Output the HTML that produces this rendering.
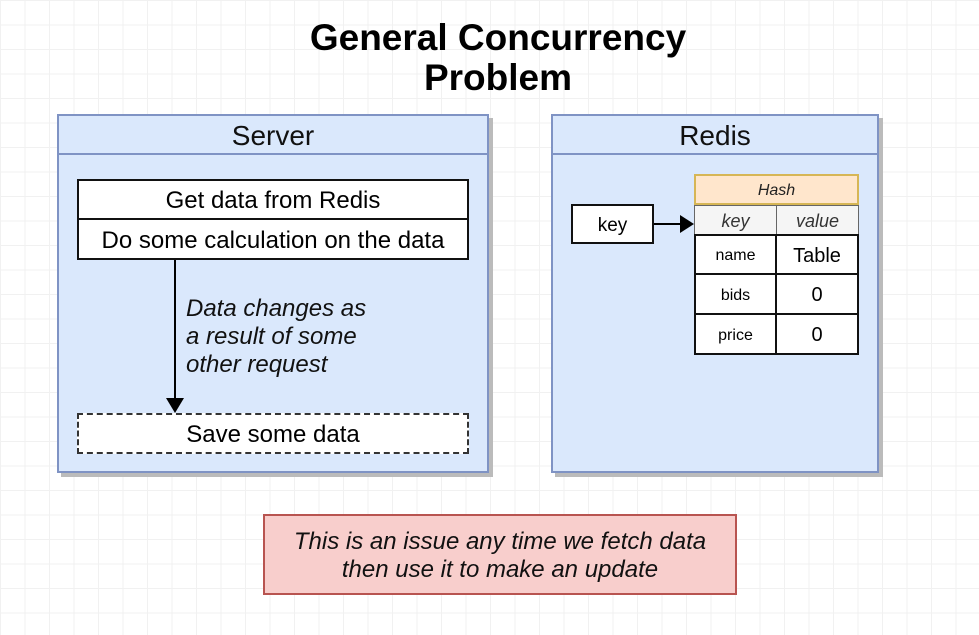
<!DOCTYPE html>
<html><head><meta charset="utf-8"><style>
body{margin:0;width:979px;height:635px;overflow:hidden;background:#fff;
background-image:linear-gradient(#f1f1f1 1px,transparent 1px),linear-gradient(90deg,#f1f1f1 1px,transparent 1px);
background-size:24.5px 24.5px;font-family:"Liberation Sans",sans-serif;position:relative}
.a{position:absolute;box-sizing:border-box}
.c{display:flex;align-items:center;justify-content:center;text-align:center;white-space:nowrap;padding-top:3px}
</style></head><body>
<div class="a c" style="left:200px;top:15px;width:596px;font-weight:bold;font-size:37px;line-height:40px;color:#000">General Concurrency<br>Problem</div>

<!-- Server -->
<div class="a" style="left:61px;top:118px;width:432px;height:359px;background:#bbb"></div>
<div class="a" style="left:57px;top:114px;width:432px;height:359px;background:#dae8fc;border:2px solid #7f93c4"></div>
<div class="a c" style="left:57px;top:116px;width:432px;height:39px;border-bottom:2px solid #7f93c4;font-size:28px;color:#111">Server</div>
<div class="a c" style="left:77px;top:179px;width:392px;height:41px;background:#fff;border:2px solid #111;font-size:24px">Get data from Redis</div>
<div class="a c" style="left:77px;top:218px;width:392px;height:42px;background:#fff;border:2px solid #111;font-size:24px">Do some calculation on the data</div>
<div class="a" style="left:186px;top:295px;font-size:24px;font-style:italic;line-height:28px;color:#111;white-space:nowrap">Data changes as<br>a result of some<br>other request</div>
<div class="a c" style="left:77px;top:413px;width:392px;height:41px;background:#fff;border:2px dashed #333;font-size:24px">Save some data</div>

<!-- Redis -->
<div class="a" style="left:555px;top:118px;width:328px;height:359px;background:#bbb"></div>
<div class="a" style="left:551px;top:114px;width:328px;height:359px;background:#dae8fc;border:2px solid #7f93c4"></div>
<div class="a c" style="left:551px;top:116px;width:328px;height:39px;border-bottom:2px solid #7f93c4;font-size:28px;color:#111">Redis</div>
<div class="a c" style="left:571px;top:204px;width:83px;height:40px;background:#fff;border:2px solid #111;font-size:19px">key</div>
<div class="a c" style="left:694px;top:174px;width:165px;height:31px;background:#ffe6cc;border:2px solid #d6b656;font-size:16px;font-style:italic;color:#222">Hash</div>
<div class="a c" style="left:694px;top:205px;width:83px;height:30px;background:#f5f5f5;border:1.5px solid #666;font-size:18px;font-style:italic;color:#333">key</div>
<div class="a c" style="left:776px;top:205px;width:83px;height:30px;background:#f5f5f5;border:1.5px solid #666;font-size:18px;font-style:italic;color:#333">value</div>
<div class="a c" style="left:694px;top:234px;width:83px;height:41px;background:#fff;border:2px solid #111;font-size:16px">name</div>
<div class="a c" style="left:775px;top:234px;width:84px;height:41px;background:#fff;border:2px solid #111;font-size:20px">Table</div>
<div class="a c" style="left:694px;top:273px;width:83px;height:42px;background:#fff;border:2px solid #111;font-size:16px">bids</div>
<div class="a c" style="left:775px;top:273px;width:84px;height:42px;background:#fff;border:2px solid #111;font-size:20px">0</div>
<div class="a c" style="left:694px;top:313px;width:83px;height:42px;background:#fff;border:2px solid #111;font-size:16px">price</div>
<div class="a c" style="left:775px;top:313px;width:84px;height:42px;background:#fff;border:2px solid #111;font-size:20px">0</div>

<svg class="a" style="left:0;top:0" width="979" height="635">
<line x1="175" y1="260" x2="175" y2="400" stroke="#000" stroke-width="2"/>
<polygon points="166,398 184,398 175,413" fill="#000"/>
<line x1="654" y1="224" x2="682" y2="224" stroke="#000" stroke-width="2"/>
<polygon points="680,215 694,224 680,233" fill="#000"/>
</svg>

<div class="a c" style="left:263px;top:514px;width:474px;height:81px;background:#f8cecc;border:2px solid #b85450;font-size:24px;font-style:italic;line-height:28px;color:#111">This is an issue any time we fetch data<br>then use it to make an update</div>
</body></html>
